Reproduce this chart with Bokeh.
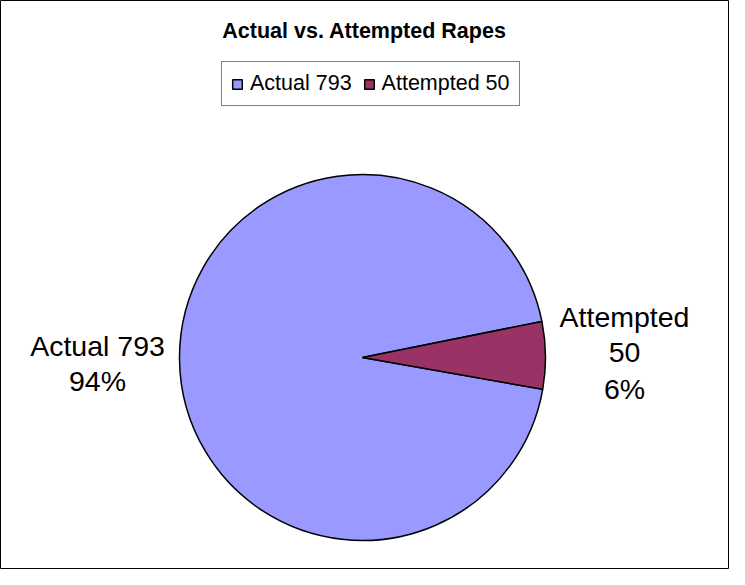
import math
from bokeh.plotting import figure
from bokeh.models import Range1d, Legend, LegendItem, ColumnDataSource
from bokeh.core.properties import value
from bokeh.embed import file_html
from bokeh.resources import INLINE

# ---- data ----
title_text = "Actual vs. Attempted Rapes"
categories = ["Actual", "Attempted"]
counts = [793, 50]
colors = ["#9999FF", "#993366"]

total = sum(counts)
percents = [round(100 * c / total) for c in counts]

W, H = 729, 569
FONT = "Liberation Sans"

p = figure(width=W, height=H, x_range=Range1d(0, W), y_range=Range1d(0, H),
           output_backend="svg", toolbar_location=None,
           x_axis_type=None, y_axis_type=None, min_border=0)
p.grid.visible = False
p.outline_line_color = "black"
p.outline_line_width = 1
p.background_fill_color = "white"
p.border_fill_color = "white"

# pie geometry (layout)
cx, cy, r = 362, 212, 183
start = math.radians(-10)
fracs = [c / total for c in counts]
att_start = start
att_end = start + 2 * math.pi * fracs[1]
act_start = att_end
act_end = start + 2 * math.pi

src = ColumnDataSource(dict(
    cat=categories,
    start=[act_start, att_start],
    end=[act_end, att_end],
    color=colors,
))
wedges = p.wedge(x=cx, y=cy, radius=r, start_angle="start", end_angle="end",
                 fill_color="color", line_color="black", line_width=1.5, source=src)

# title
p.text(x=[364], y=[539], text=[title_text], text_align="center",
       text_baseline="middle", text_font=value(FONT), text_font_style="bold",
       text_font_size="21.5px", text_color="black")

# data labels
p.text(x=[97, 97], y=[224, 189],
       text=[f"{categories[0]} {counts[0]}", f"{percents[0]}%"],
       text_align="center", text_baseline="middle", text_font=value(FONT),
       text_font_size="28.5px", text_color="black")
p.text(x=[624, 624, 624], y=[253, 217, 181],
       text=[categories[1], str(counts[1]), f"{percents[1]}%"],
       text_align="center", text_baseline="middle", text_font=value(FONT),
       text_font_size="28.5px", text_color="black")

legend = Legend(items=[
    LegendItem(label=f"{categories[0]} {counts[0]}", renderers=[wedges], index=0),
    LegendItem(label=f"{categories[1]} {counts[1]}", renderers=[wedges], index=1),
], location=(221, 463), orientation="horizontal",
    label_text_font=FONT, label_text_font_size="21.5px", label_text_color="black",
    glyph_width=12, glyph_height=12, label_standoff=7, spacing=11,
    padding=9, margin=0, border_line_color="black", border_line_width=1,
    background_fill_alpha=1.0, label_height=20)
p.add_layout(legend)

open("out.html", "w").write(file_html(p, INLINE))
